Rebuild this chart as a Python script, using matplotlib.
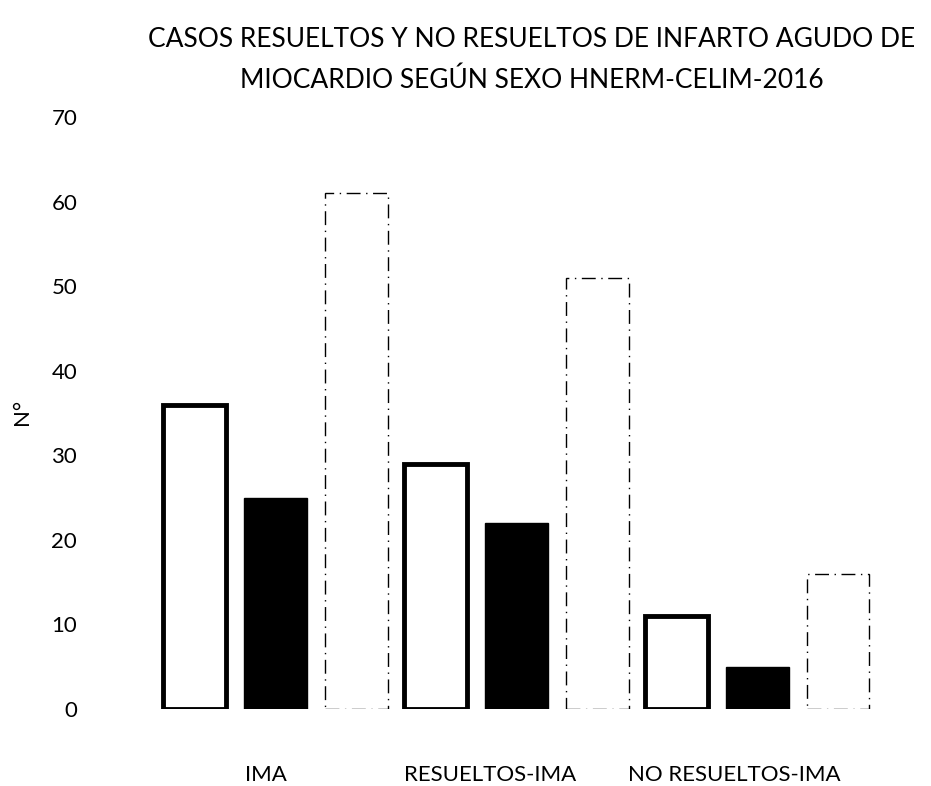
import numpy as np
import matplotlib.pyplot as plt

plt.rcParams['font.family'] = ['Lato', 'DejaVu Sans']

grupos = ['IMA', 'RESUELTOS-IMA', 'NO RESUELTOS-IMA']
masculino = [36, 29, 11]
femenino = [25, 22, 5]
total = [61, 51, 16]

x = np.arange(len(grupos))
w = 0.26
d = 0.335
# the category labels sit a bit left of the bar groups in the original
lab_shift = np.array([-0.04, -0.11, -0.095])

fig = plt.figure(figsize=(9.31, 7.86), dpi=100)
ax = fig.add_axes([0.1665, 0.098, 0.7765, 0.753])

ax.bar(x - d, masculino, w, facecolor='white', edgecolor='black', linewidth=3.5)
ax.bar(x, femenino, w, facecolor='black', edgecolor='black', linewidth=1)
ax.bar(x + d, total, w, facecolor='white', edgecolor='black', linewidth=1.0,
       linestyle=(0, (10, 4, 1, 4)))

ax.set_xlim(-0.5, 2.5)
ax.set_ylim(0, 70)
ax.set_yticks(range(0, 71, 10))
ax.set_xticks(x + lab_shift)
ax.set_xticklabels(grupos)
ax.tick_params(axis='y', length=0, pad=56, labelsize=16)
ax.tick_params(axis='x', length=0, pad=40, labelsize=16)
for s in ax.spines.values():
    s.set_visible(False)

fig.text(0.024, 0.476, 'N°', rotation=90, ha='center', va='center', fontsize=16)
fig.text(0.571, 0.924, 'CASOS RESUELTOS Y NO RESUELTOS DE INFARTO AGUDO DE\nMIOCARDIO SEGÚN SEXO HNERM-CELIM-2016',
         ha='center', va='center', fontsize=19, linespacing=1.75)

fig.savefig('out.png', dpi=100)
